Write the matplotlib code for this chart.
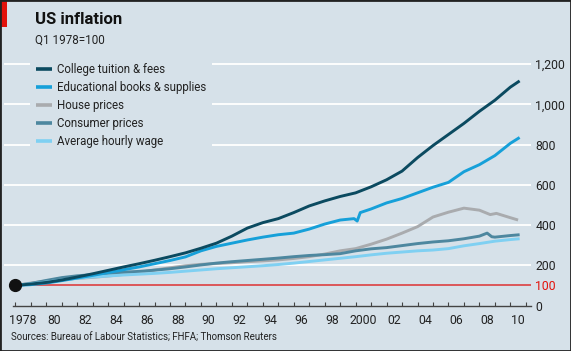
import matplotlib
matplotlib.use("Agg")
import matplotlib.pyplot as plt
from matplotlib.patches import Rectangle
from matplotlib.lines import Line2D
from matplotlib.ticker import FixedLocator, FuncFormatter

plt.rcParams['font.family'] = ['Roboto', 'DejaVu Sans']

W, H = 571, 351
BG = '#d6e1e9'

# index, Q1 1978 = 100
years = list(range(1978, 2011)) + [2010.6]
tuition = [100, 107, 115, 127, 142, 158, 175, 192, 208, 225, 243, 262,
           285, 310, 345, 385, 412, 432, 462, 495, 520, 542,
           560, 590, 625, 668, 735, 795, 850, 905, 965, 1020,
           1085, 1116]

books_years = list(range(1978, 2000)) + [1999.9, 2000.1, 2000.3] + list(range(2001, 2011)) + [2010.6]
books = [100, 104, 112, 124, 137, 150, 164, 178, 192, 208, 224, 242,
         272, 294, 310, 326, 340, 352, 360, 380, 405, 425,
         432, 420, 462, 480, 510, 532, 560, 588, 612, 665, 700, 745,
         806, 835]

house_years = list(range(1978, 2009)) + [2008.7, 2009.1, 2009.9, 2010.5]
house = [100, 112, 122, 130, 135, 140, 147, 155, 165, 177, 188, 198,
         205, 209, 213, 218, 222, 227, 234, 243, 256, 272,
         283, 305, 330, 360, 392, 440, 464, 484, 474,
         452, 458, 439, 425]

cpi_years = list(range(1978, 2009)) + [2008.5, 2008.8, 2009, 2010, 2010.6]
cpi = [100, 110, 125, 139, 148, 154, 160, 166, 170, 176, 183, 192,
       202, 211, 218, 224, 230, 236, 243, 249, 253, 258,
       272, 282, 288, 298, 308, 316, 322, 332, 345,
       360, 342, 340, 348, 352]

wage = [100, 108, 117, 127, 136, 142, 147, 152, 156, 160, 165, 171,
        177, 183, 188, 193, 198, 204, 211, 219, 227, 235,
        243, 252, 260, 266, 272, 276, 283, 297, 308, 320,
        328, 332]

labels = ["College tuition & fees", "Educational books & supplies",
          "House prices", "Consumer prices", "Average hourly wage"]
colors = ['#0b4a60', '#16a0d9', '#a9abae', '#4d879f', '#7fd0f2']

year_ticks = list(range(1978, 2012))
year_labels = ['1978', '80', '82', '84', '86', '88', '90', '92', '94', '96',
               '98', '2000', '02', '04', '06', '08', '10']
y_ticks = [0, 100, 200, 400, 600, 800, 1000, 1200]

fig = plt.figure(figsize=(W / 100, H / 100), dpi=100, facecolor=BG)

# axes placed in pixel terms: 1978 at x=15, 0 at y=306, 1200 at y=64
left, right = 4, 531
x0 = 1978 - (15.3 - left) / 15.47
x1 = 1978 + (right - 15.3) / 15.47
ytop = 1300
ppu = (305.6 - 64) / 1200
ax = fig.add_axes([left / W, (H - 305.6) / H, (right - left) / W, ytop * ppu / H])
ax.set_facecolor(BG)
ax.set_xlim(x0, x1)
ax.set_ylim(0, ytop)

for s in ['top', 'left', 'right']:
    ax.spines[s].set_visible(False)
ax.spines['bottom'].set_color('#444444')
ax.spines['bottom'].set_linewidth(1.0)
ax.spines['bottom'].set_bounds(1977.85, x1)

# gridlines
for v in y_ticks[2:]:
    ax.axhline(v, color='white', lw=1.3, zorder=1)
ax.axhline(100, xmin=(1978 - x0) / (x1 - x0), color='#dd4040', lw=1.2, zorder=2)

ax.yaxis.tick_right()
ax.yaxis.set_major_locator(FixedLocator(y_ticks))
ax.yaxis.set_major_formatter(FuncFormatter(lambda v, p: f"{int(v):,}"))
ax.tick_params(axis='y', length=0, pad=3, labelsize=8.8, labelcolor='#222222')
for t in ax.get_yticklabels():
    if t.get_text() == '100':
        t.set_color('#e3120b')

ax.xaxis.set_major_locator(FixedLocator(year_ticks))
ax.xaxis.set_minor_locator(FixedLocator([y + 0.5 for y in range(1978, 2011, 2)]))
ax.xaxis.set_major_formatter(FuncFormatter(lambda v, p: ''))
ax.xaxis.set_minor_formatter(FuncFormatter(lambda v, p: year_labels[p] if p < len(year_labels) else ''))
ax.tick_params(axis='x', which='major', direction='in', length=3.2, width=0.8, color='#444444')
ax.tick_params(axis='x', which='minor', length=0, pad=6, labelsize=8.8, labelcolor='#222222')

# series
lw = 2.1
ax.plot(house_years, house, color=colors[2], lw=lw, zorder=3, solid_capstyle='butt')
ax.plot(cpi_years, cpi, color=colors[3], lw=lw, zorder=4, solid_capstyle='butt')
ax.plot(years, wage, color=colors[4], lw=lw, zorder=5, solid_capstyle='butt')
ax.plot(books_years, books, color=colors[1], lw=lw, zorder=6, solid_capstyle='butt')
ax.plot(years, tuition, color=colors[0], lw=lw, zorder=7, solid_capstyle='butt')
ax.plot([1978], [100], 'o', color='#111111', ms=8.5, zorder=8, clip_on=False)

handles = [Line2D([], [], color=c, lw=2.6, solid_capstyle='butt') for c in colors]
leg = ax.legend(handles, labels, loc='upper left', bbox_to_anchor=(30 / W, 1 - 57 / H),
                bbox_transform=fig.transFigure, frameon=True, facecolor=BG,
                edgecolor='none', framealpha=1, fancybox=False, fontsize=8.3,
                handlelength=1.45, handletextpad=0.42, labelspacing=0.44,
                borderpad=0.5, borderaxespad=0)
leg.set_zorder(9)
for t in leg.get_texts():
    t.set_color('#222222')

# titles and source
fig.text(35 / W, 1 - 20 / H, 'US inflation', fontsize=12, fontweight='bold',
         color='#111111', va='center', ha='left')
fig.text(35 / W, 1 - 40 / H, 'Q1 1978=100', fontsize=8.4, color='#222222',
         va='center', ha='left')
fig.text(11 / W, 1 - 338 / H, 'Sources: Bureau of Labour Statistics; FHFA; Thomson Reuters',
         fontsize=7.0, color='#222222', va='center', ha='left')

# red tab and frame
fig.patches.append(Rectangle((0, 1 - 27 / H), 7 / W, 27 / H, transform=fig.transFigure,
                             facecolor='#e3120b', edgecolor='none', zorder=10))
fig.patches.append(Rectangle((0, 0), 1, 1, transform=fig.transFigure, fill=False,
                             edgecolor='#222222', lw=2.0, zorder=11))

fig.savefig('out.png', dpi=100, facecolor=BG)
